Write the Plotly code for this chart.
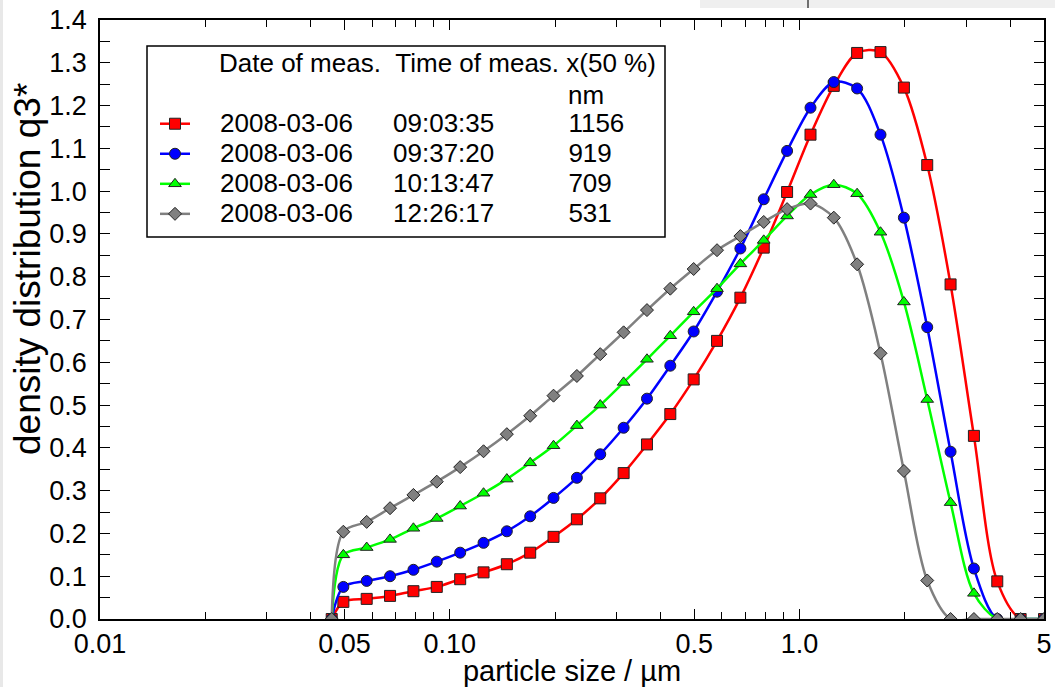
import plotly.graph_objects as go

# ---- data ----
size_um = [0.04597, 0.04963, 0.05788, 0.06750, 0.07872, 0.09180, 0.1071, 0.1249,
           0.1456, 0.1698, 0.1980, 0.2309, 0.2693, 0.3141, 0.3663, 0.4271,
           0.4981, 0.5809, 0.6775, 0.7901, 0.9214, 1.075, 1.253, 1.461,
           1.704, 1.988, 2.318, 2.703, 3.152, 3.676, 4.287, 5.0]

q3_090335 = [0, 0.040, 0.047, 0.054, 0.065, 0.075, 0.093, 0.109, 0.128, 0.155, 0.192,
             0.233, 0.282, 0.341, 0.408, 0.479, 0.560, 0.650, 0.751, 0.868, 0.998,
             1.132, 1.246, 1.323, 1.325, 1.242, 1.061, 0.782, 0.428, 0.088, 0.0, 0.0]
q3_093720 = [0, 0.075, 0.089, 0.100, 0.115, 0.134, 0.155, 0.178, 0.205, 0.240, 0.283,
             0.330, 0.385, 0.447, 0.515, 0.592, 0.672, 0.765, 0.866, 0.981, 1.094,
             1.195, 1.255, 1.240, 1.132, 0.938, 0.682, 0.391, 0.118, 0.0, 0.0, 0.0]
q3_101347 = [0, 0.150, 0.167, 0.186, 0.212, 0.235, 0.264, 0.294, 0.327, 0.365, 0.405,
             0.452, 0.500, 0.553, 0.607, 0.662, 0.718, 0.772, 0.830, 0.885, 0.942,
             0.992, 1.015, 0.994, 0.904, 0.741, 0.513, 0.272, 0.060, 0.0, 0.0, 0.0]
q3_122617 = [0, 0.204, 0.227, 0.259, 0.290, 0.321, 0.355, 0.392, 0.432, 0.475, 0.522,
             0.568, 0.619, 0.670, 0.722, 0.772, 0.818, 0.862, 0.895, 0.928, 0.958,
             0.971, 0.938, 0.829, 0.621, 0.346, 0.090, 0.0, 0.0, 0.0, 0.0, 0.0]

meas_dates = ["2008-03-06", "2008-03-06", "2008-03-06", "2008-03-06"]
meas_times = ["09:03:35", "09:37:20", "10:13:47", "12:26:17"]
x50_nm = ["1156", "919", "709", "531"]

x_tickvals = [0.01, 0.05, 0.1, 0.5, 1.0, 5.0]
x_ticktext = ["0.01", "0.05", "0.10", "0.5", "1.0", "5"]
x_minor = [0.02, 0.03, 0.04, 0.06, 0.07, 0.08, 0.09, 0.2, 0.3, 0.4,
           0.6, 0.7, 0.8, 0.9, 2, 3, 4]

# ---- styles ----
FONT = "Liberation Sans, Arial, sans-serif"
series = [
    (q3_090335, "#ff0000", "square", 11),
    (q3_093720, "#0000ff", "circle", 11),
    (q3_101347, "#00ff00", "triangle-up", 11),
    (q3_122617, "#808080", "diamond", 10),
]

NB = "\u00a0"


def pad(n, size):
    return '<span style="font-size:%gpx">%s</span>' % (size, NB * n)


def big(t):
    return '<span style="font-size:26px">%s</span>' % t


fig = go.Figure()
for (vals, col, sym, msz), d, t, x50 in zip(series, meas_dates, meas_times, x50_nm):
    name = (pad(3, 30) + big(d) + pad(5, 28.8) + big(t) + pad(10, 26.7) + big(x50))
    fig.add_trace(go.Scatter(
        x=size_um, y=vals, mode="lines+markers", name=name,
        line=dict(color=col, width=2.5, shape="spline", smoothing=0.9),
        marker=dict(symbol=sym, size=msz, color=col,
                    line=dict(color="#222222", width=1)),
    ))

W, H = 1055, 687
L, R, T, B = 100, 11, 20, 68
pw, ph = W - L - R, H - T - B


def px_x(p):
    return (p - L) / pw


def px_y(p):
    return (H - B - p) / ph


title_txt = (pad(9, 24.8) + big("Date of meas." + NB * 2 + "Time of meas." + NB + "x(50 %)")
             + "<br>" + pad(58, 25.5) + big("nm"))

fig.update_layout(
    width=W, height=H,
    margin=dict(l=L, r=R, t=T, b=B, autoexpand=False),
    paper_bgcolor="white", plot_bgcolor="white",
    font=dict(family=FONT, color="black", size=26),
    showlegend=True,
    legend=dict(
        x=px_x(155), y=px_y(40), xanchor="left", yanchor="top",
        bgcolor="rgba(0,0,0,0)", borderwidth=0,
        font=dict(family=FONT, size=20.8, color="black"),
        title=dict(text=title_txt, font=dict(family=FONT, size=24.5, color="black"), side="top"),
        itemwidth=30,
    ),
    xaxis=dict(
        type="log", range=[-2, 0.69897], automargin=False,
        showline=True, linecolor="black", linewidth=1.5, mirror="allticks",
        ticks="inside", ticklen=10, tickwidth=1.2, tickcolor="black",
        tickvals=x_tickvals, ticktext=x_ticktext,
        tickfont=dict(family=FONT, size=27),
        minor=dict(tickvals=x_minor, ticks="inside", ticklen=7, tickwidth=1.2, tickcolor="black"),
        showgrid=False, zeroline=False,
        title=dict(text="particle size / µm", font=dict(family=FONT, size=29), standoff=4),
    ),
    yaxis=dict(
        range=[0, 1.4], automargin=False,
        showline=True, linecolor="black", linewidth=1.5, mirror="allticks",
        ticks="inside", ticklen=10, tickwidth=1.2, tickcolor="black",
        tick0=0, dtick=0.1, tickformat=".1f",
        tickfont=dict(family=FONT, size=27),
        ticklabelstandoff=6,
        minor=dict(dtick=0.05, ticks="inside", ticklen=10, tickwidth=1.2, tickcolor="black"),
        showgrid=False, zeroline=False,
    ),
    annotations=[dict(
        text="density distribution q3*", textangle=-90,
        xref="paper", yref="paper", x=px_x(27), y=px_y(269),
        xanchor="center", yanchor="middle", showarrow=False,
        font=dict(family=FONT, size=37, color="black"),
    )],
    shapes=[
        # legend frame
        dict(type="rect", xref="paper", yref="paper",
             x0=px_x(147), x1=px_x(665), y0=px_y(237), y1=px_y(46),
             line=dict(color="black", width=1.5), fillcolor="rgba(0,0,0,0)", layer="below"),
        # screenshot edge artefacts
        dict(type="rect", xref="paper", yref="paper",
             x0=px_x(700), x1=px_x(1055), y0=px_y(8), y1=px_y(0),
             line=dict(width=0), fillcolor="#efefef", layer="below"),
        dict(type="line", xref="paper", yref="paper",
             x0=px_x(808), x1=px_x(808), y0=px_y(8), y1=px_y(0),
             line=dict(color="#444444", width=1.5)),
        dict(type="rect", xref="paper", yref="paper",
             x0=px_x(0), x1=px_x(3), y0=px_y(687), y1=px_y(0),
             line=dict(width=0), fillcolor="#e8e8e8", layer="below"),
    ],
)

fig.write_html("out.html")
